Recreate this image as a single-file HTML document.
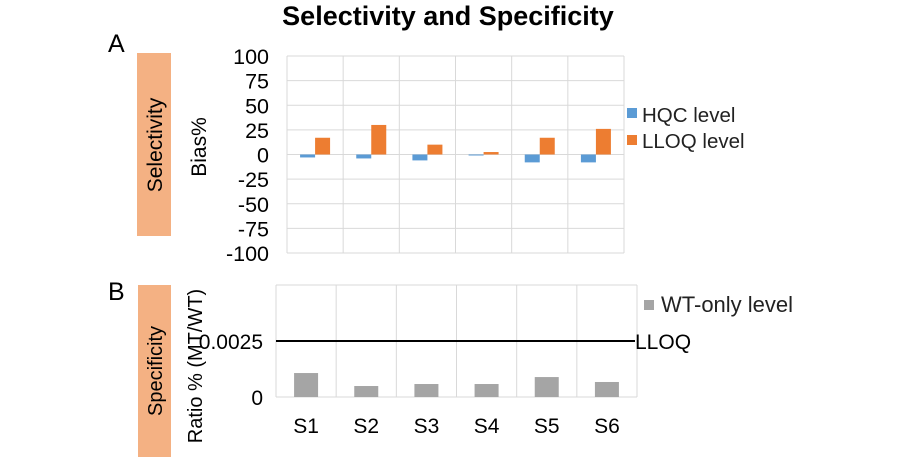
<!DOCTYPE html>
<html><head><meta charset="utf-8"><style>
body{margin:0;background:#fff;}
svg{display:block;font-family:"Liberation Sans",Arial,sans-serif;}
</style></head><body>
<svg width="918" height="471" viewBox="0 0 918 471">
<text x="448" y="25" text-anchor="middle" font-size="27" font-weight="bold">Selectivity and Specificity</text>
<text x="108" y="52" font-size="25">A</text>
<text x="108" y="300" font-size="25">B</text>
<rect x="137" y="53" width="34" height="183" fill="#f4b183"/>
<text transform="translate(162,145) rotate(-90)" text-anchor="middle" font-size="21">Selectivity</text>
<rect x="138" y="285" width="33" height="172" fill="#f4b183"/>
<text transform="translate(162,371) rotate(-90)" text-anchor="middle" font-size="20">Specificity</text>
<text transform="translate(206,147) rotate(-90)" text-anchor="middle" font-size="21">Bias%</text>
<text transform="translate(202,366) rotate(-90)" text-anchor="middle" font-size="20">Ratio % (MT/WT)</text>
<g id="top"></g>
<g id="bottom"></g>
<rect x="627" y="108" width="10" height="10" fill="#5b9bd5"/>
<text x="642" y="122" font-size="20.5" fill="#222">HQC level</text>
<rect x="627" y="135" width="10" height="10" fill="#ed7d31"/>
<text x="642" y="148" font-size="20.5" fill="#222">LLOQ level</text>
<rect x="644" y="300" width="10" height="10" fill="#a5a5a5"/>
<text x="661" y="312" font-size="22" fill="#222">WT-only level</text>
</svg>
<script>
const categories=["S1","S2","S3","S4","S5","S6"];
const hqcValues=[-3,-4,-6,-1,-8,-8];
const lloqValues=[17,30,10,2.5,17,26];
const biasTicks=[100,75,50,25,0,-25,-50,-75,-100];
const wtValues=[0.00107,0.00049,0.00058,0.00058,0.00089,0.00067];
const ratioTicks=[0,0.0025];
const lloqLimit=0.0025;
const NS="http://www.w3.org/2000/svg";
function mk(tag,attrs,parent,txt){const e=document.createElementNS(NS,tag);for(const k in attrs)e.setAttribute(k,attrs[k]);if(txt!==undefined)e.textContent=txt;parent.appendChild(e);return e;}
const T=document.getElementById('top');
const tx0=287,tx1=624,ty0=56,ty1=253;
const ty=v=>ty0+(100-v)/200*(ty1-ty0);
const tcw=(tx1-tx0)/categories.length;
biasTicks.forEach(t=>{
 const l=mk('line',{x1:tx0,x2:tx1,y1:ty(t),y2:ty(t),stroke:'#d9d9d9','stroke-width':1},T);
 
 
 const s=mk('text',{x:tx0-18,y:ty(t)+8,'text-anchor':'end','font-size':21.5},T,String(t));
 
 
});
for(let i=0;i<=categories.length;i++){
 const l=mk('line',{x1:tx0+i*tcw,x2:tx0+i*tcw,y1:ty0,y2:ty1,stroke:'#d9d9d9','stroke-width':1},T);
 
 
}
const bw=15;
categories.forEach((c,i)=>{
 const cx=tx0+i*tcw+tcw/2;
 const h=hqcValues[i], o=lloqValues[i];
 const b1=mk('rect',{x:cx-bw,y:Math.min(ty(h),ty(0)),width:bw,height:Math.max(1,Math.abs(ty(h)-ty(0))),fill:'#5b9bd5'},T);
 
 
 const b2=mk('rect',{x:cx,y:Math.min(ty(o),ty(0)),width:bw,height:Math.max(1,Math.abs(ty(o)-ty(0))),fill:'#ed7d31'},T);
 
 
});
const B=document.getElementById('bottom');
const bx0=276,bx1=637,by0=285,by1=397,bmax=0.005;
const by=v=>by1-v/bmax*(by1-by0);
const bcw=(bx1-bx0)/categories.length;
const tb=mk('line',{x1:bx0,x2:bx1,y1:by0,y2:by0,stroke:'#d9d9d9'},B);


const xa=mk('line',{x1:bx0,x2:bx1,y1:by1,y2:by1,stroke:'#d9d9d9'},B);


for(let i=0;i<=categories.length;i++){
 const l=mk('line',{x1:bx0+i*bcw,x2:bx0+i*bcw,y1:by0,y2:by1,stroke:'#d9d9d9'},B);
 
 
}
ratioTicks.forEach(t=>{
 const s=mk('text',{x:bx0-13,y:by(t)+8,'text-anchor':'end','font-size':21},B,String(t));
 
 
});
categories.forEach((c,i)=>{
 const cx=bx0+i*bcw+bcw/2;
 const r=mk('rect',{x:cx-12,y:by(wtValues[i]),width:24,height:by1-by(wtValues[i]),fill:'#a5a5a5'},B);
 
 
 const s=mk('text',{x:cx,y:433,'text-anchor':'middle','font-size':21},B,c);
 
 
});
const ll=mk('line',{x1:bx0,x2:bx1-2,y1:by(lloqLimit),y2:by(lloqLimit),stroke:'#000','stroke-width':2},B);


const lt=mk('text',{x:bx1-2,y:by(lloqLimit)+8,'font-size':21},B,'LLOQ');


</script>
</body></html>
